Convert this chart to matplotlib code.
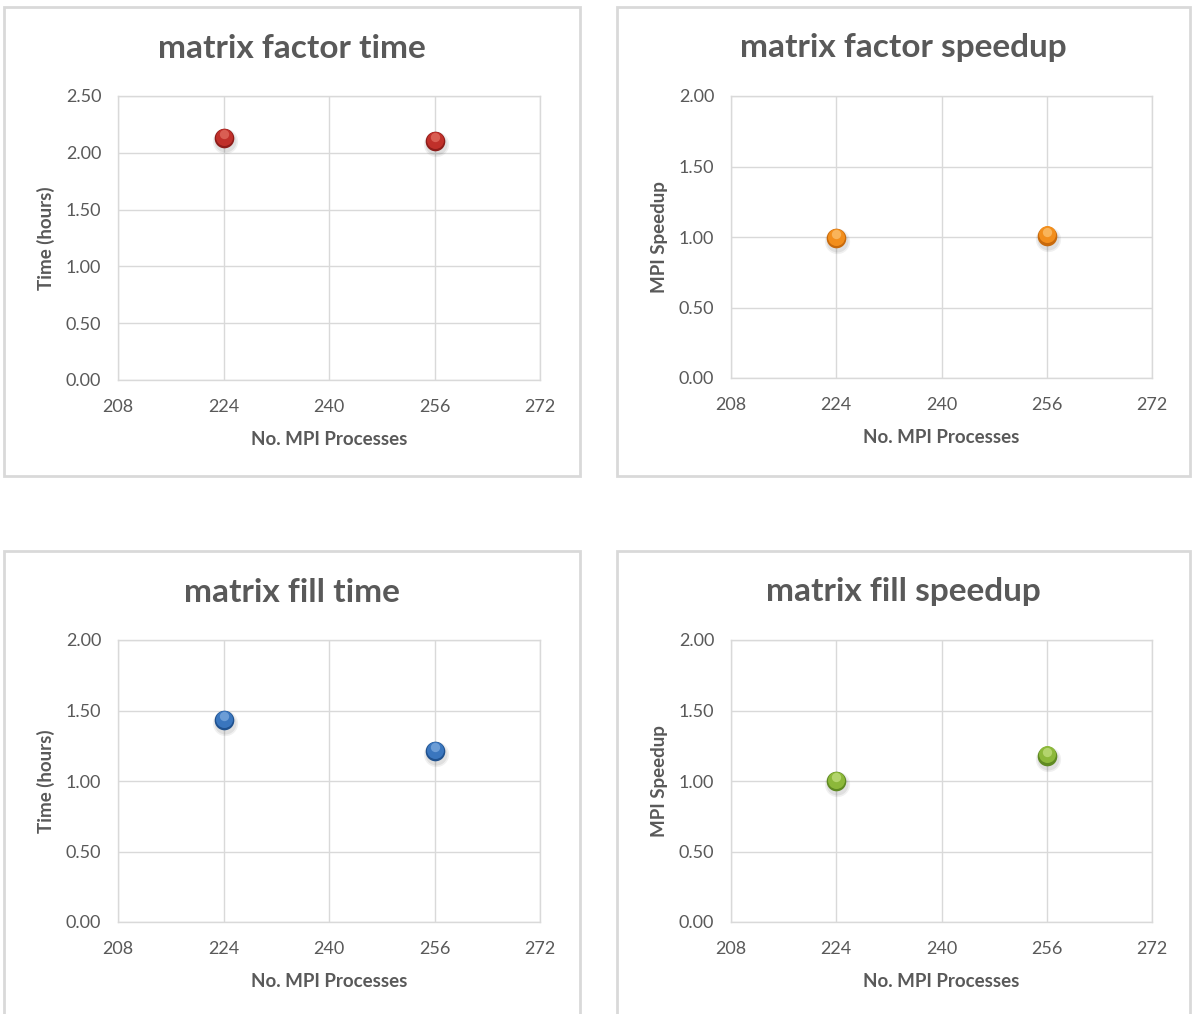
import matplotlib.pyplot as plt
from matplotlib.patches import Rectangle
from matplotlib.transforms import offset_copy

plt.rcParams['font.family'] = ['Lato', 'DejaVu Sans']

# MPI process counts and measured results
procs = [224, 256]
factor_time = [2.13, 2.10]
factor_speedup = [0.99, 1.01]
fill_time = [1.43, 1.21]
fill_speedup = [1.00, 1.18]

x_ticks = [208, 224, 240, 256, 272]

W, H = 1192, 1014
fig = plt.figure(figsize=(W / 100, H / 100), dpi=100)
fig.patch.set_facecolor('white')

TEXT = '#595959'
GRID = '#D9D9D9'

# (data, title, ylabel, ymax, dark, mid, light, axes box px, chart box px)
panels = [
    (factor_time, 'matrix factor time', 'Time (hours)', 2.5,
     '#8E1D1A', '#C0302A', '#E06A5E',
     (118, 96, 540, 380), (4, 7, 580, 476)),
    (factor_speedup, 'matrix factor speedup', 'MPI Speedup', 2.0,
     '#C86A0C', '#F28E1C', '#FBBE6A',
     (731, 96, 1152, 378), (617, 7, 1190, 476)),
    (fill_time, 'matrix fill time', 'Time (hours)', 2.0,
     '#20528F', '#3A76BE', '#79A7DD',
     (118, 640, 540, 922), (4, 551, 580, 1020)),
    (fill_speedup, 'matrix fill speedup', 'MPI Speedup', 2.0,
     '#5F8A22', '#8CB83A', '#BEDC7A',
     (731, 640, 1152, 922), (617, 551, 1190, 1020)),
]


def fx(px):
    return px / W


def fy(py):
    return 1 - py / H


for vals, title, ylab, ymax, dark, mid, light, abox, cbox in panels:
    # chart area border
    x0, y0, x1, y1 = cbox
    fig.add_artist(Rectangle((fx(x0), fy(y1)), fx(x1 - x0), (y1 - y0) / H,
                             transform=fig.transFigure, fill=False,
                             edgecolor=GRID, linewidth=2))
    fig.text(fx((x0 + x1) / 2), fy(y0 + 41), title, ha='center', va='center',
             fontsize=24, fontweight='bold', color=TEXT)

    l, t, r, b = abox
    ax = fig.add_axes([fx(l), fy(b), fx(r - l), (b - t) / H])
    ax.set_xlim(208, 272)
    ax.set_ylim(0, ymax)
    ax.set_xticks(x_ticks)
    step = 0.5
    ax.set_yticks([i * step for i in range(int(round(ymax / step)) + 1)])
    ax.yaxis.set_major_formatter(plt.FormatStrFormatter('%.2f'))
    ax.grid(True, color=GRID, linewidth=1)
    ax.set_axisbelow(True)
    for s in ax.spines.values():
        s.set_color(GRID)
        s.set_linewidth(1)
    ax.tick_params(length=0, labelsize=13, labelcolor=TEXT)
    ax.tick_params(axis='x', pad=14)
    ax.tick_params(axis='y', pad=12)
    ax.set_xlabel('No. MPI Processes', fontsize=13.5, fontweight='bold',
                  color=TEXT, labelpad=11)
    ax.set_ylabel(ylab, fontsize=13.5, fontweight='bold', color=TEXT,
                  labelpad=8)

    # glossy markers: soft drop shadow, shaded ball, specular highlight
    shadow = offset_copy(ax.transData, fig=fig, x=1, y=-3, units='dots')
    ax.scatter(procs, vals, s=330, color='black', alpha=0.06, zorder=3,
               linewidths=0, transform=shadow)
    ax.scatter(procs, vals, s=250, color='black', alpha=0.07, zorder=3,
               linewidths=0, transform=shadow)
    ax.scatter(procs, vals, s=200, color=dark, zorder=4, linewidths=0)
    up = offset_copy(ax.transData, fig=fig, x=0, y=1.5, units='dots')
    ax.scatter(procs, vals, s=150, color=mid, zorder=5, linewidths=0,
               transform=up)
    top = offset_copy(ax.transData, fig=fig, x=0, y=4, units='dots')
    ax.scatter(procs, vals, s=45, color=light, alpha=0.8, zorder=6,
               linewidths=0, transform=top)

fig.savefig('out.png', dpi=100, facecolor='white')
